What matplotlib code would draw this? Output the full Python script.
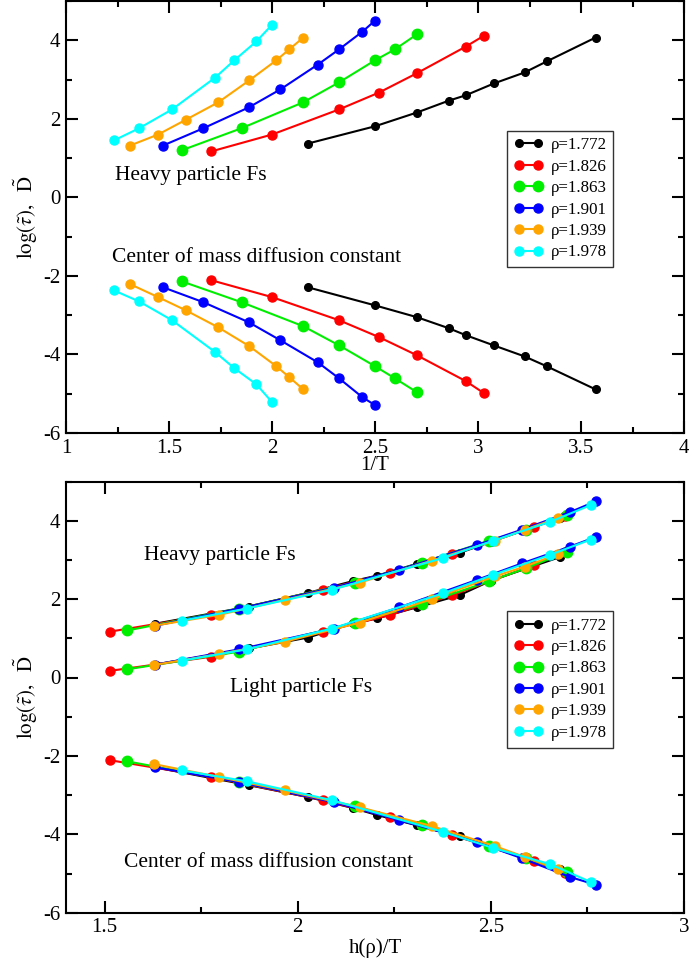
import numpy as np
import matplotlib
matplotlib.use("Agg")
import matplotlib.pyplot as plt
from matplotlib.ticker import MultipleLocator, FormatStrFormatter

plt.rcParams['font.family'] = ['Liberation Serif', 'DejaVu Serif']
plt.rcParams['mathtext.fontset'] = 'stix'
plt.rcParams['axes.unicode_minus'] = False

labels = ['ρ=1.772', 'ρ=1.826', 'ρ=1.863', 'ρ=1.901', 'ρ=1.939', 'ρ=1.978']
colors = ['black', '#ff0000', '#00ee00', '#0000ff', '#ffa500', '#00ffff']
msizes = [5.5, 6.5, 7.5, 6.5, 6.5, 6.5]

# 1/T for each density
invT = [
    [2.174, 2.5, 2.703, 2.857, 2.941, 3.077, 3.226, 3.333, 3.571],
    [1.705, 2.0, 2.326, 2.52, 2.703, 2.941, 3.03],
    [1.5625, 1.852, 2.151, 2.326, 2.5, 2.597, 2.703],
    [1.471, 1.667, 1.887, 2.041, 2.222, 2.326, 2.439, 2.5],
    [1.311, 1.447, 1.583, 1.739, 1.890, 2.021, 2.084, 2.152],
    [1.233, 1.355, 1.515, 1.724, 1.817, 1.924, 2.001],
]

# h(rho)/T for each density (bottom panel)
hT = [
    [1.630, 1.875, 2.027, 2.143, 2.206, 2.308, 2.419, 2.500, 2.678],
    [1.514, 1.776, 2.065, 2.238, 2.400, 2.612, 2.691],
    [1.559, 1.848, 2.147, 2.321, 2.495, 2.592, 2.698],
    [1.631, 1.849, 2.093, 2.263, 2.464, 2.580, 2.705, 2.773],
    [1.628, 1.797, 1.966, 2.160, 2.347, 2.510, 2.588, 2.673],
    [1.700, 1.869, 2.089, 2.377, 2.506, 2.653, 2.759],
]

# log(tau) heavy particle Fs
heavy = [
    [1.37, 1.81, 2.16, 2.46, 2.60, 2.90, 3.18, 3.46, 4.07],
    [1.17, 1.60, 2.24, 2.67, 3.16, 3.84, 4.12],
    [1.20, 1.76, 2.42, 2.93, 3.49, 3.77, 4.15],
    [1.32, 1.76, 2.29, 2.75, 3.38, 3.77, 4.22, 4.50],
    [1.32, 1.60, 1.98, 2.42, 2.98, 3.49, 3.77, 4.07],
    [1.45, 1.76, 2.24, 3.05, 3.49, 3.97, 4.40],
]

# log(tau) light particle Fs
light = [
    [0.33, 0.74, 1.02, 1.38, 1.51, 1.79, 2.10, 2.47, 3.07],
    [0.17, 0.53, 1.17, 1.59, 2.10, 2.87, 3.20],
    [0.21, 0.66, 1.40, 1.87, 2.45, 2.79, 3.21],
    [0.33, 0.72, 1.25, 1.79, 2.49, 2.91, 3.34, 3.59],
    [0.32, 0.60, 0.91, 1.40, 2.00, 2.58, 2.83, 3.15],
    [0.43, 0.72, 1.25, 2.15, 2.62, 3.13, 3.52],
]

# log(D) center of mass
cm = [
    [-2.29, -2.75, -3.05, -3.33, -3.51, -3.77, -4.05, -4.30, -4.89],
    [-2.11, -2.54, -3.13, -3.56, -4.02, -4.68, -4.99],
    [-2.14, -2.67, -3.28, -3.77, -4.30, -4.61, -4.96],
    [-2.29, -2.67, -3.18, -3.64, -4.20, -4.61, -5.09, -5.29],
    [-2.21, -2.54, -2.88, -3.31, -3.79, -4.30, -4.58, -4.89],
    [-2.37, -2.65, -3.13, -3.94, -4.35, -4.76, -5.22],
]

fig = plt.figure(figsize=(6.89, 9.65), dpi=100)
ax1 = fig.add_axes([66/689, 1 - 433/965, 618/689, 432/965])
ax2 = fig.add_axes([66/689, 1 - 912.7/965, 618/689, 431.2/965])


def style(ax, xmin, xmax):
    ax.set_xlim(xmin, xmax)
    ax.set_ylim(-6, 5)
    ax.xaxis.set_major_locator(MultipleLocator(0.5))
    ax.xaxis.set_minor_locator(MultipleLocator(0.25))
    ax.yaxis.set_major_locator(MultipleLocator(2))
    ax.yaxis.set_minor_locator(MultipleLocator(1))
    ax.xaxis.set_major_formatter(FormatStrFormatter('%g'))
    ax.yaxis.set_major_formatter(FormatStrFormatter('%g'))
    ax.tick_params(which='both', direction='in', top=True, right=True,
                   width=1.5, labelsize=15, pad=4)
    ax.tick_params(which='major', length=8.5)
    ax.tick_params(which='minor', length=4.3)
    for s in ax.spines.values():
        s.set_linewidth(1.5)
    ax.set_ylabel(r'$\mathrm{log}(\tilde{\tau}),\ \ \tilde{\mathrm{D}}$', fontsize=15, labelpad=2)
    ax.legend(loc='upper left', bbox_to_anchor=(0.714, 0.70), borderaxespad=0,
              numpoints=2, handlelength=1.7, handletextpad=0.45, labelspacing=0.32,
              fontsize=12.2, fancybox=False, framealpha=1, edgecolor='#333333',
              borderpad=0.4)


for i in range(6):
    ax1.plot(invT[i], heavy[i], '-o', color=colors[i], lw=1.5, ms=msizes[i], label=labels[i])
    ax1.plot(invT[i], cm[i], '-o', color=colors[i], lw=1.5, ms=msizes[i])
    ax2.plot(hT[i], heavy[i], '-o', color=colors[i], lw=1.5, ms=msizes[i], label=labels[i])
    ax2.plot(hT[i], light[i], '-o', color=colors[i], lw=1.5, ms=msizes[i])
    ax2.plot(hT[i], cm[i], '-o', color=colors[i], lw=1.5, ms=msizes[i])

style(ax1, 1, 4)
style(ax2, 1.4, 3)
ax1.set_xlabel('1/T', fontsize=15, labelpad=-1)
ax2.set_xlabel('h(ρ)/T', fontsize=15, labelpad=1)

ax1.text(1.238, 0.56, 'Heavy particle Fs', fontsize=15.5, va='center')
ax1.text(1.222, -1.52, 'Center of mass diffusion constant', fontsize=15.5, va='center')
ax2.text(1.601, 3.12, 'Heavy particle Fs', fontsize=15.5, va='center')
ax2.text(1.825, -0.26, 'Light particle Fs', fontsize=15.5, va='center')
ax2.text(1.549, -4.72, 'Center of mass diffusion constant', fontsize=15.5, va='center')

fig.savefig('out.png', dpi=100)
